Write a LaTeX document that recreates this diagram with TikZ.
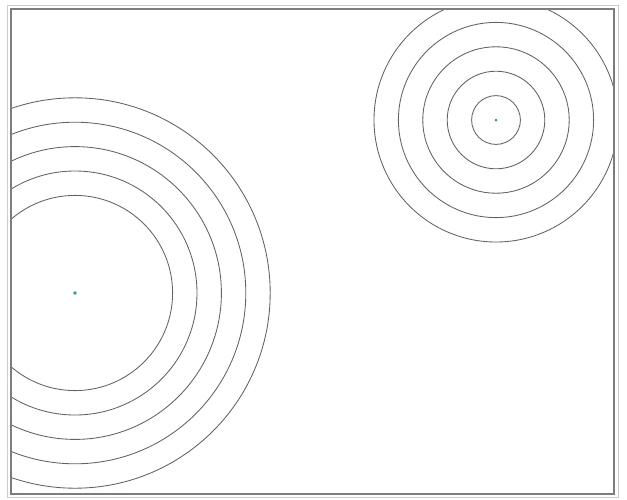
\documentclass[tikz,border=0pt]{standalone}
\begin{document}
\begin{tikzpicture}[x=1pt,y=-1pt,
  ring/.style={draw={rgb,255:red,105;green,92;blue,110}, line width=0.85pt},
  centerdot/.style={fill={rgb,255:red,40;green,160;blue,130}},
  frameline/.style={draw={rgb,255:red,125;green,125;blue,125}, line width=2.2pt},
  outerframe/.style={draw={rgb,255:red,205;green,205;blue,205}, line width=1pt}]
\useasboundingbox (0,0) rectangle (627,499);
\fill[white] (0,0) rectangle (627,499);
\coordinate (L) at (75,293);
\coordinate (R) at (496,120);
\begin{scope}
\clip (11,9) rectangle (614,494);
\foreach \k in {4,...,8} {\draw[ring] (L) circle ({24.4*\k});}
\foreach \k in {1,...,5} {\draw[ring] (R) circle ({24.4*\k});}
\end{scope}
\fill[centerdot] (L) circle (1.8);
\fill[centerdot] (R) circle (1.5);
\draw[outerframe] (7.5,5) rectangle (618,497.5);
\draw[frameline] (11,9) rectangle (614,494);
\end{tikzpicture}
\end{document}
